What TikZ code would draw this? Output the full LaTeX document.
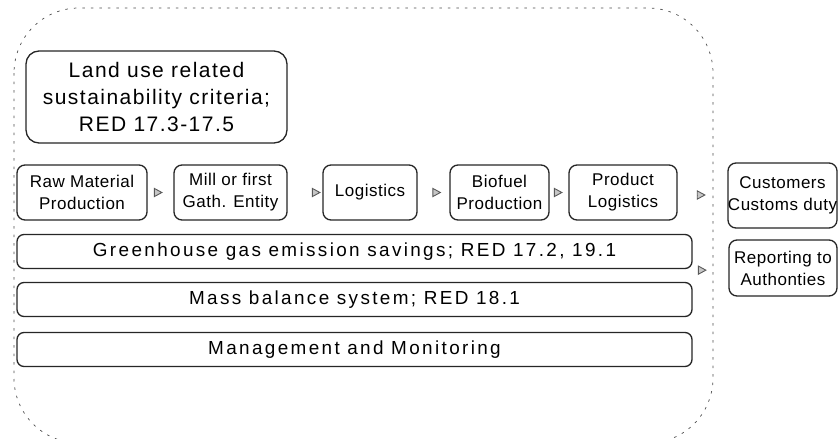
\documentclass[tikz,border=0pt]{standalone}
\usepackage{fontspec}
\setmainfont{Liberation Sans}
\newfontfamily\spacedfont[LetterSpace=7]{Liberation Sans}
\newfontfamily\barfont[LetterSpace=12.5]{Liberation Sans}
\newfontfamily\smallfont[LetterSpace=3]{Liberation Sans}
\usetikzlibrary{arrows.meta}
\begin{document}
\begin{tikzpicture}[x=1pt,y=-1pt,
  box/.style={draw=black!85, line width=1.3pt, rounded corners=8pt, fill=white,
    align=center, inner sep=0pt, font=\smallfont\fontsize{17}{22}\selectfont},
  bigbox/.style={box, rounded corners=13pt, font=\spacedfont\fontsize{21}{27}\selectfont},
  bar/.style={box, rounded corners=7pt, minimum width=675pt, minimum height=34pt,
    font=\barfont\fontsize{18.9}{22}\selectfont},
  flow/.style={draw=black!65, line width=0.9pt,
    -{Triangle[length=9pt,width=9.5pt,fill=gray!45]}},
  outline/.style={draw=gray!60!black, line width=0.7pt, dash pattern=on 2.5pt off 6pt, rounded corners=65pt}
]
\useasboundingbox (0,0) rectangle (838,439);
\clip (0,0) rectangle (838,439);
\draw[outline] (14,8) rectangle (713,443);

\node[bigbox, minimum width=261pt, minimum height=92pt] (land) at (156.5,97)
  {Land use related\\sustainability criteria;\\RED 17.3-17.5};

\node[box, minimum width=130pt, minimum height=55pt] (raw) at (82,192.5) {Raw Material\\Production};
\node[box, minimum width=113pt, minimum height=55pt] (mill) at (230.5,192.5) {Mill or first\\Gath. Entity};
\node[box, minimum width=94pt, minimum height=55pt] (logi) at (370,192.5) {Logistics};
\node[box, minimum width=99pt, minimum height=55pt] (bio) at (499.5,192.5) {Biofuel\\Production};
\node[box, minimum width=108pt, minimum height=55pt] (pl) at (623,192.5) {Product\\Logistics};
\node[box, minimum width=109pt, minimum height=65pt] (cust) at (782.5,195.5) {Customers\\Customs duty};
\node[box, minimum width=108pt, minimum height=56pt] (rep) at (783,268) {Reporting to\\Authonties};

\node[bar] (ghg) at (354.5,251.5) {Greenhouse gas emission savings; RED 17.2, 19.1};
\node[bar] (mass) at (354.5,299.5) {Mass balance system; RED 18.1};
\node[bar] (mgmt) at (354.5,349.5) {Management and Monitoring};

\draw[flow, shorten <=8.5pt, shorten >=10.5pt] (raw.east) -- (mill.west);
\draw[flow, shorten <=25.5pt, shorten >=1.5pt] (mill.east) -- (logi.west);
\draw[flow, shorten <=15.5pt, shorten >=8pt] (logi.east) -- (bio.west);
\draw[flow, shorten <=5.5pt, shorten >=5.5pt] (bio.east) -- (pl.west);
\draw[flow, shorten <=20.5pt, shorten >=21.5pt] ([yshift=-2.5pt]pl.east) -- ([yshift=-2.5pt]pl.east -| cust.west);
\draw[flow, shorten <=6.5pt, shorten >=21.5pt] ([yshift=-1pt]ghg.south east) -- ([yshift=-1pt]ghg.south east -| rep.west);
\end{tikzpicture}
\end{document}
